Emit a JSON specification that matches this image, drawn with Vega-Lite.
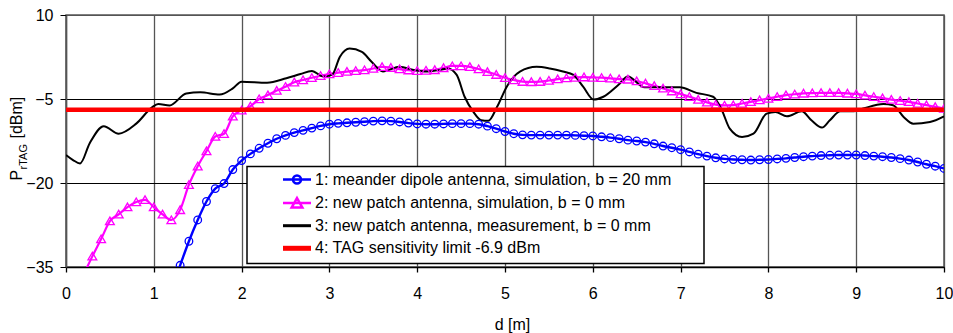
{
  "$schema": "https://vega.github.io/schema/vega-lite/v6.json",
  "width": 878,
  "height": 252,
  "autosize": {"type": "none"},
  "padding": {"left": 66, "top": 15, "right": 9, "bottom": 66},
  "background": "white",
  "config": {
    "view": {"stroke": "#555555", "strokeWidth": 1.5},
    "axis": {"labelFont": "Liberation Sans", "titleFont": "Liberation Sans", "labelColor": "black", "titleColor": "black", "titleFontWeight": "normal"}
  },
  "data": {"values": [
    {"s":"1","d":1.2,"p":-39},{"s":"1","d":1.3,"p":-34.7},{"s":"1","d":1.4,"p":-30.4},{"s":"1","d":1.5,"p":-26.6},{"s":"1","d":1.6,"p":-23.3},{"s":"1","d":1.7,"p":-21.0},{"s":"1","d":1.8,"p":-20.1},{"s":"1","d":1.9,"p":-17.6},{"s":"1","d":2.0,"p":-16.0},{"s":"1","d":2.1,"p":-14.8},{"s":"1","d":2.2,"p":-13.8},{"s":"1","d":2.3,"p":-12.9},{"s":"1","d":2.4,"p":-12.1},{"s":"1","d":2.5,"p":-11.5},{"s":"1","d":2.6,"p":-11.0},{"s":"1","d":2.7,"p":-10.6},{"s":"1","d":2.8,"p":-10.2},{"s":"1","d":2.9,"p":-9.8},{"s":"1","d":3.0,"p":-9.5},{"s":"1","d":3.1,"p":-9.35},{"s":"1","d":3.2,"p":-9.25},{"s":"1","d":3.3,"p":-9.15},{"s":"1","d":3.4,"p":-9.05},{"s":"1","d":3.5,"p":-8.95},{"s":"1","d":3.6,"p":-8.9},{"s":"1","d":3.7,"p":-8.95},{"s":"1","d":3.8,"p":-9.1},{"s":"1","d":3.9,"p":-9.3},{"s":"1","d":4.0,"p":-9.45},{"s":"1","d":4.1,"p":-9.5},{"s":"1","d":4.2,"p":-9.5},{"s":"1","d":4.3,"p":-9.45},{"s":"1","d":4.4,"p":-9.4},{"s":"1","d":4.5,"p":-9.4},{"s":"1","d":4.6,"p":-9.4},{"s":"1","d":4.7,"p":-9.5},{"s":"1","d":4.8,"p":-9.85},{"s":"1","d":4.9,"p":-10.3},{"s":"1","d":5.0,"p":-10.8},{"s":"1","d":5.1,"p":-11.2},{"s":"1","d":5.2,"p":-11.4},{"s":"1","d":5.3,"p":-11.45},{"s":"1","d":5.4,"p":-11.45},{"s":"1","d":5.5,"p":-11.45},{"s":"1","d":5.6,"p":-11.45},{"s":"1","d":5.7,"p":-11.45},{"s":"1","d":5.8,"p":-11.5},{"s":"1","d":5.9,"p":-11.55},{"s":"1","d":6.0,"p":-11.6},{"s":"1","d":6.1,"p":-11.75},{"s":"1","d":6.2,"p":-11.9},{"s":"1","d":6.3,"p":-12.1},{"s":"1","d":6.4,"p":-12.35},{"s":"1","d":6.5,"p":-12.5},{"s":"1","d":6.6,"p":-12.7},{"s":"1","d":6.7,"p":-13.0},{"s":"1","d":6.8,"p":-13.4},{"s":"1","d":6.9,"p":-13.7},{"s":"1","d":7.0,"p":-14.05},{"s":"1","d":7.1,"p":-14.45},{"s":"1","d":7.2,"p":-14.85},{"s":"1","d":7.3,"p":-15.2},{"s":"1","d":7.4,"p":-15.5},{"s":"1","d":7.5,"p":-15.7},{"s":"1","d":7.6,"p":-15.8},{"s":"1","d":7.7,"p":-15.85},{"s":"1","d":7.8,"p":-15.9},{"s":"1","d":7.9,"p":-15.85},{"s":"1","d":8.0,"p":-15.8},{"s":"1","d":8.1,"p":-15.7},{"s":"1","d":8.2,"p":-15.6},{"s":"1","d":8.3,"p":-15.45},{"s":"1","d":8.4,"p":-15.3},{"s":"1","d":8.5,"p":-15.2},{"s":"1","d":8.6,"p":-15.1},{"s":"1","d":8.7,"p":-15.05},{"s":"1","d":8.8,"p":-15.0},{"s":"1","d":8.9,"p":-15.0},{"s":"1","d":9.0,"p":-15.0},{"s":"1","d":9.1,"p":-15.1},{"s":"1","d":9.2,"p":-15.2},{"s":"1","d":9.3,"p":-15.3},{"s":"1","d":9.4,"p":-15.45},{"s":"1","d":9.5,"p":-15.65},{"s":"1","d":9.6,"p":-15.9},{"s":"1","d":9.7,"p":-16.25},{"s":"1","d":9.8,"p":-16.65},{"s":"1","d":9.9,"p":-17.0},{"s":"1","d":10.0,"p":-17.4},
    {"s":"2","d":0.1,"p":-40},{"s":"2","d":0.2,"p":-36.4},{"s":"2","d":0.3,"p":-33.1},{"s":"2","d":0.4,"p":-30.0},{"s":"2","d":0.5,"p":-26.8},{"s":"2","d":0.6,"p":-25.6},{"s":"2","d":0.7,"p":-24.3},{"s":"2","d":0.8,"p":-23.4},{"s":"2","d":0.9,"p":-23.0},{"s":"2","d":1.0,"p":-24.3},{"s":"2","d":1.1,"p":-25.6},{"s":"2","d":1.2,"p":-26.6},{"s":"2","d":1.3,"p":-24.8},{"s":"2","d":1.4,"p":-20.3},{"s":"2","d":1.5,"p":-17.0},{"s":"2","d":1.6,"p":-14.3},{"s":"2","d":1.7,"p":-11.7},{"s":"2","d":1.8,"p":-11.2},{"s":"2","d":1.9,"p":-8.1},{"s":"2","d":2.0,"p":-7.0},{"s":"2","d":2.1,"p":-6.3},{"s":"2","d":2.2,"p":-5.0},{"s":"2","d":2.3,"p":-4.3},{"s":"2","d":2.4,"p":-3.5},{"s":"2","d":2.5,"p":-2.8},{"s":"2","d":2.6,"p":-2.0},{"s":"2","d":2.7,"p":-1.6},{"s":"2","d":2.8,"p":-1.2},{"s":"2","d":2.9,"p":-0.85},{"s":"2","d":3.0,"p":-0.55},{"s":"2","d":3.1,"p":-0.3},{"s":"2","d":3.2,"p":-0.1},{"s":"2","d":3.3,"p":0.05},{"s":"2","d":3.4,"p":0.17},{"s":"2","d":3.5,"p":0.45},{"s":"2","d":3.6,"p":0.75},{"s":"2","d":3.7,"p":0.6},{"s":"2","d":3.8,"p":0.35},{"s":"2","d":3.9,"p":0.15},{"s":"2","d":4.0,"p":0.05},{"s":"2","d":4.1,"p":0.1},{"s":"2","d":4.2,"p":0.2},{"s":"2","d":4.3,"p":0.55},{"s":"2","d":4.4,"p":0.9},{"s":"2","d":4.5,"p":0.9},{"s":"2","d":4.6,"p":0.75},{"s":"2","d":4.7,"p":0.35},{"s":"2","d":4.8,"p":-0.15},{"s":"2","d":4.9,"p":-0.65},{"s":"2","d":5.0,"p":-1.2},{"s":"2","d":5.1,"p":-1.6},{"s":"2","d":5.2,"p":-1.9},{"s":"2","d":5.3,"p":-1.95},{"s":"2","d":5.4,"p":-1.9},{"s":"2","d":5.5,"p":-1.7},{"s":"2","d":5.6,"p":-1.45},{"s":"2","d":5.7,"p":-1.25},{"s":"2","d":5.8,"p":-1.15},{"s":"2","d":5.9,"p":-1.1},{"s":"2","d":6.0,"p":-1.15},{"s":"2","d":6.1,"p":-1.2},{"s":"2","d":6.2,"p":-1.3},{"s":"2","d":6.3,"p":-1.45},{"s":"2","d":6.4,"p":-1.5},{"s":"2","d":6.5,"p":-1.8},{"s":"2","d":6.6,"p":-2.2},{"s":"2","d":6.7,"p":-2.65},{"s":"2","d":6.8,"p":-3.1},{"s":"2","d":6.9,"p":-3.6},{"s":"2","d":7.0,"p":-4.1},{"s":"2","d":7.1,"p":-4.6},{"s":"2","d":7.2,"p":-5.1},{"s":"2","d":7.3,"p":-5.6},{"s":"2","d":7.4,"p":-6.0},{"s":"2","d":7.5,"p":-6.15},{"s":"2","d":7.6,"p":-6.1},{"s":"2","d":7.7,"p":-5.8},{"s":"2","d":7.8,"p":-5.5},{"s":"2","d":7.9,"p":-5.2},{"s":"2","d":8.0,"p":-4.9},{"s":"2","d":8.1,"p":-4.6},{"s":"2","d":8.2,"p":-4.3},{"s":"2","d":8.3,"p":-4.15},{"s":"2","d":8.4,"p":-4.0},{"s":"2","d":8.5,"p":-3.95},{"s":"2","d":8.6,"p":-3.9},{"s":"2","d":8.7,"p":-3.9},{"s":"2","d":8.8,"p":-3.9},{"s":"2","d":8.9,"p":-4.0},{"s":"2","d":9.0,"p":-4.1},{"s":"2","d":9.1,"p":-4.35},{"s":"2","d":9.2,"p":-4.6},{"s":"2","d":9.3,"p":-4.85},{"s":"2","d":9.4,"p":-5.1},{"s":"2","d":9.5,"p":-5.3},{"s":"2","d":9.6,"p":-5.5},{"s":"2","d":9.7,"p":-5.8},{"s":"2","d":9.8,"p":-6.1},{"s":"2","d":9.9,"p":-6.4},{"s":"2","d":10.0,"p":-6.7},
    {"s":"3","d":0.0,"p":-15.0},{"s":"3","d":0.08,"p":-15.9},{"s":"3","d":0.16,"p":-16.5},{"s":"3","d":0.27,"p":-12.9},{"s":"3","d":0.43,"p":-9.85},{"s":"3","d":0.6,"p":-11.2},{"s":"3","d":0.8,"p":-9.4},{"s":"3","d":0.98,"p":-6.5},{"s":"3","d":1.05,"p":-5.9},{"s":"3","d":1.18,"p":-6.15},{"s":"3","d":1.37,"p":-4.0},{"s":"3","d":1.53,"p":-3.8},{"s":"3","d":1.75,"p":-4.2},{"s":"3","d":1.9,"p":-3.1},{"s":"3","d":2.0,"p":-1.9},{"s":"3","d":2.29,"p":-2.1},{"s":"3","d":2.51,"p":-1.3},{"s":"3","d":2.67,"p":-0.55},{"s":"3","d":2.8,"p":0.0},{"s":"3","d":2.93,"p":-1.0},{"s":"3","d":3.03,"p":-0.7},{"s":"3","d":3.12,"p":2.55},{"s":"3","d":3.23,"p":4.0},{"s":"3","d":3.37,"p":3.4},{"s":"3","d":3.48,"p":1.65},{"s":"3","d":3.61,"p":-0.1},{"s":"3","d":3.8,"p":0.75},{"s":"3","d":3.96,"p":0.2},{"s":"3","d":4.11,"p":-0.1},{"s":"3","d":4.26,"p":0.2},{"s":"3","d":4.35,"p":0.45},{"s":"3","d":4.45,"p":-0.7},{"s":"3","d":4.54,"p":-4.6},{"s":"3","d":4.64,"p":-7.3},{"s":"3","d":4.73,"p":-8.8},{"s":"3","d":4.81,"p":-8.9},{"s":"3","d":4.91,"p":-6.4},{"s":"3","d":5.02,"p":-2.8},{"s":"3","d":5.17,"p":-0.1},{"s":"3","d":5.36,"p":0.75},{"s":"3","d":5.51,"p":0.45},{"s":"3","d":5.66,"p":-0.1},{"s":"3","d":5.78,"p":-0.7},{"s":"3","d":5.89,"p":-2.8},{"s":"3","d":6.01,"p":-5.1},{"s":"3","d":6.12,"p":-4.6},{"s":"3","d":6.29,"p":-2.5},{"s":"3","d":6.4,"p":-1.0},{"s":"3","d":6.59,"p":-2.9},{"s":"3","d":6.8,"p":-2.9},{"s":"3","d":6.99,"p":-2.9},{"s":"3","d":7.18,"p":-3.9},{"s":"3","d":7.37,"p":-4.6},{"s":"3","d":7.47,"p":-7.0},{"s":"3","d":7.56,"p":-10.3},{"s":"3","d":7.7,"p":-11.8},{"s":"3","d":7.83,"p":-11.2},{"s":"3","d":7.98,"p":-7.6},{"s":"3","d":8.08,"p":-7.3},{"s":"3","d":8.21,"p":-8.1},{"s":"3","d":8.38,"p":-7.2},{"s":"3","d":8.49,"p":-8.8},{"s":"3","d":8.61,"p":-10.1},{"s":"3","d":8.7,"p":-8.8},{"s":"3","d":8.82,"p":-7.2},{"s":"3","d":8.97,"p":-7.2},{"s":"3","d":9.08,"p":-6.7},{"s":"3","d":9.31,"p":-5.9},{"s":"3","d":9.42,"p":-6.1},{"s":"3","d":9.54,"p":-8.2},{"s":"3","d":9.65,"p":-9.4},{"s":"3","d":9.84,"p":-9.1},{"s":"3","d":10.0,"p":-8.1},
    {"s":"4","d":0,"p":-6.9},{"s":"4","d":10,"p":-6.9}
  ]},
  "resolve": {"axis": {"y": "independent"}},
  "layer": [
    {
      "transform": [{"filter": "datum.s !== '4'"}],
      "mark": {"type": "line", "interpolate": "monotone", "clip": true},
      "encoding": {
        "x": {"field": "d", "type": "quantitative", "scale": {"domain": [0, 10], "nice": false},
          "axis": {"values": [0,1,2,3,4,5,6,7,8,9,10], "format": "d", "title": "d [m]", "titleFontSize": 16, "titleX": 446, "titleY": 49, "titleBaseline": "top", "titleAlign": "center", "grid": true, "gridColor": "#555555", "gridWidth": 1.3, "tickSize": 5, "tickColor": "black", "tickWidth": 1.3, "labelPadding": 13, "labelFontSize": 16, "labelFlush": false, "labelOverlap": false, "labelAngle": 0, "domainColor": "black", "domainWidth": 1.5}},
        "y": {"field": "p", "type": "quantitative", "scale": {"domain": [-35, 10], "nice": false, "zero": false},
          "axis": {"orient": "left", "values": [-35, -20, -5, 10], "format": "d", "title": "P", "titleFontSize": 16, "titleX": -45, "titleY": 165, "titleAngle": 270, "titleAlign": "left", "titleBaseline": "alphabetic", "grid": true, "gridColor": {"condition": {"test": "datum.value === 10", "value": "#555555"}, "value": "black"}, "gridWidth": 1, "tickSize": 6, "tickColor": "black", "labelPadding": 7, "labelFontSize": 16, "labelFlush": false, "labelOverlap": false, "domainColor": "#555555", "domainWidth": 1.5}},
        "color": {"field": "s", "type": "nominal",
          "scale": {"domain": ["1", "2", "3", "4"], "range": ["#0000ff", "#ff00ff", "#000000", "#ff0000"]},
          "legend": {
            "orient": "none", "legendX": 181, "legendY": 151.5,
            "title": "\u00a0", "titleOrient": "right", "titlePadding": 28, "titleFontSize": 16, "titleFont": "Liberation Sans",
            "strokeColor": "black", "fillColor": "white", "padding": 5,
            "symbolSize": 100, "symbolOffset": 37, "labelOffset": 10,
            "labelFont": "Liberation Sans", "labelFontSize": 16, "labelColor": "black", "labelLimit": 0,
            "rowPadding": 4.6,
            "labelExpr": "datum.value === '1' ? '1: meander dipole antenna, simulation, b = 20 mm' : datum.value === '2' ? '2: new patch antenna, simulation, b = 0 mm' : datum.value === '3' ? '3: new patch antenna, measurement, b = 0 mm' : '4: TAG sensitivity limit -6.9 dBm'",
            "encode": {
              "legend": {"update": {"strokeWidth": {"value": 1.5}}},
              "symbols": {"update": {
                "shape": {"signal": "datum.value === '1' ? 'M-2.8,0H2.8M0.8,0A0.8,0.8 0 1,1 -0.8,0A0.8,0.8 0 1,1 0.8,0' : datum.value === '2' ? 'M-2.8,0H2.8M0,-1L1.07,0.9L-1.07,0.9Z' : 'M-2.8,0H2.8'"},
                "stroke": {"signal": "datum.value === '1' ? '#0000ff' : datum.value === '2' ? '#ff00ff' : datum.value === '3' ? '#000000' : '#ff0000'"},
                "strokeWidth": {"signal": "datum.value === '4' ? 5 : datum.value === '3' ? 3 : 2.5"},
                "fill": {"value": "transparent"},
                "opacity": {"value": 1}
              }}
            }
          }},
        "strokeWidth": {"field": "s", "type": "ordinal", "scale": {"domain": ["1", "2", "3"], "range": [2.4, 2, 2.8]}, "legend": null}
      }
    },
    {
      "transform": [{"filter": "datum.s === '1'"}],
      "mark": {"type": "point", "shape": "circle", "filled": false, "color": "#0000ff", "size": 58, "strokeWidth": 1.3, "clip": true, "opacity": 1},
      "encoding": {
        "x": {"field": "d", "type": "quantitative"},
        "y": {"field": "p", "type": "quantitative",
          "axis": {"orient": "left", "title": "rTAG", "titleFontSize": 11, "titleX": -40, "titleY": 154, "titleAngle": 270, "titleAlign": "left", "titleBaseline": "alphabetic", "labels": false, "ticks": false, "domain": false, "grid": false}}
      }
    },
    {
      "transform": [{"filter": "datum.s === '2'"}],
      "mark": {"type": "point", "shape": "M0,-1L1.1,0.9L-1.1,0.9Z", "filled": false, "color": "#ff00ff", "size": 64, "strokeWidth": 1.3, "clip": true, "opacity": 1},
      "encoding": {
        "x": {"field": "d", "type": "quantitative"},
        "y": {"field": "p", "type": "quantitative",
          "axis": {"orient": "left", "title": "[dBm]", "titleFontSize": 16, "titleX": -45, "titleY": 123, "titleAngle": 270, "titleAlign": "left", "titleBaseline": "alphabetic", "labels": false, "ticks": false, "domain": false, "grid": false}}
      }
    },
    {
      "transform": [{"filter": "datum.s === '4'"}],
      "mark": {"type": "line", "color": "#ff0000", "strokeWidth": 4.5, "clip": true},
      "encoding": {
        "x": {"field": "d", "type": "quantitative"},
        "y": {"field": "p", "type": "quantitative", "axis": null}
      }
    }
  ]
}
